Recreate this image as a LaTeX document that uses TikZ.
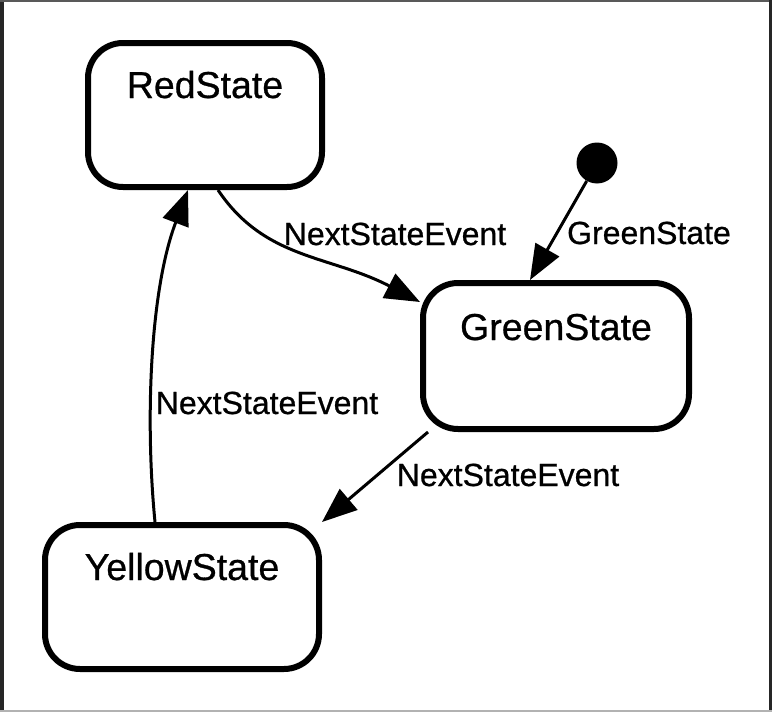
\documentclass[tikz,border=0pt]{standalone}
\usepackage{fontspec}
\setmainfont{Liberation Sans}
\newfontfamily\diagfont{Liberation Sans}[FakeBold=0.7]
\usepackage{tikz}
\usetikzlibrary{arrows.meta,positioning,calc}
\tikzset{
  statebox/.style={draw, line width=6pt, rounded corners=35pt, inner xsep=0pt, inner ysep=0pt, text height=55pt, text depth=89pt, font=\diagfont\fontsize{37.5}{40}\selectfont},
  startdot/.style={circle, fill=black, minimum size=41pt, inner sep=0pt},
  trarrow/.style={-{Triangle[length=35pt,width=27pt]}, line width=3pt},
  trlabel/.style={anchor=base, inner sep=0pt, font=\diagfont\fontsize{32}{34}\selectfont}
}

\begin{document}
\begin{tikzpicture}[x=1pt, y=-1pt]
\useasboundingbox (0,0) rectangle (772,712);
\fill[white] (0,0) rectangle (772,712);
% frame of the screenshot
\fill[black!85] (0,0) rectangle (3.5,712);
\fill[black!65] (0,0) rectangle (772,1.5);
\fill[black!85] (768.5,0) rectangle (772,712);
\fill[black!30] (0,710) rectangle (772,712);
% states
\node[statebox, minimum width=234pt] (red) at (205,115) {RedState};
\node[statebox, minimum width=266pt, text height=57pt] (green) at (556,356) {GreenState};
\node[statebox, minimum width=274pt] (yellow) at (182,597) {YellowState};
\node[startdot] (init) at (597,163) {};
% transitions
\draw[trarrow] (init) -- ([xshift=-26pt]green.north);
\draw[trarrow] ([xshift=13pt]red.south) .. controls +(47,70) and +(-90,-47) .. ([yshift=54pt]green.west);
\draw[trarrow] ([xshift=-128pt]green.south) -- ([xshift=140pt]yellow.north);
\draw[trarrow] ([xshift=-27pt]yellow.north) .. controls +(-10,-102) and +(-38,100) .. ([xshift=-17pt]red.south);
% labels
\node[trlabel] (lblinit) at (649,244) {GreenState};
\node[trlabel] (lblrg) at (395,245) {NextStateEvent};
\node[trlabel] (lblgy) at (508,486) {NextStateEvent};
\node[trlabel] (lblyr) at (267,414) {NextStateEvent};
\end{tikzpicture}
\end{document}
